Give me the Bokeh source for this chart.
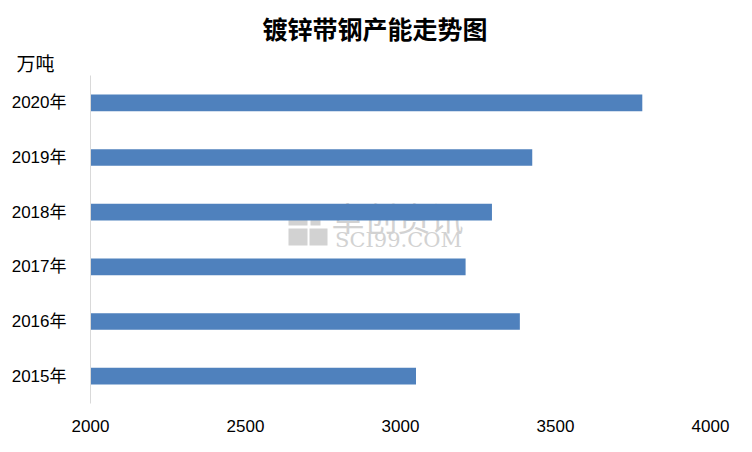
from bokeh.plotting import figure
from bokeh.models import FactorRange, Range1d, Label, FixedTicker, Title, BoxAnnotation
from bokeh.embed import file_html
from bokeh.resources import INLINE

# ---- data ----
years = ["2015年", "2016年", "2017年", "2018年", "2019年", "2020年"]
capacity = [3050, 3385, 3210, 3295, 3425, 3780]
x_ticks = [2000, 2500, 3000, 3500, 4000]
title_text = "镀锌带钢产能走势图"
unit_text = "万吨"

BAR = "#4F81BD"
FONT = "Liberation Sans, Noto Sans CJK SC"
WM = "#d2d2d2"

p = figure(width=736, height=436,
           y_range=FactorRange(factors=years),
           x_range=Range1d(2000, 4000),
           output_backend="svg", toolbar_location=None,
           min_border_left=90, min_border_right=26,
           min_border_top=75, min_border_bottom=33)
p.title.visible = False

# watermark (underlay, decorative)
for l, r, b, t in [(198, 217, 178, 187), (220, 230, 178, 187),
                   (198, 217, 158, 175), (219, 237, 158, 175)]:
    p.add_layout(BoxAnnotation(left=l, right=r, bottom=b, top=t,
                               left_units="screen", right_units="screen",
                               bottom_units="screen", top_units="screen",
                               fill_color=WM, fill_alpha=1, line_color=None,
                               level="underlay"))
p.add_layout(Label(x=307, y=187, x_units="screen", y_units="screen",
                   text="卓创资讯", text_align="center", text_baseline="middle",
                   text_font="Noto Sans CJK SC", text_font_size="33px",
                   text_color=WM, level="underlay"))
p.add_layout(Label(x=308, y=164, x_units="screen", y_units="screen",
                   text="SCI99.COM", text_align="center", text_baseline="middle",
                   text_font="DejaVu Serif", text_font_size="21px",
                   text_color=WM, level="underlay"))

p.hbar(y=years, right=capacity, left=2000, height=0.305,
       fill_color=BAR, line_color=None)

p.xgrid.visible = False
p.ygrid.visible = False
p.outline_line_color = None

p.xaxis.ticker = FixedTicker(ticks=x_ticks)
p.xaxis.axis_line_color = None
p.xaxis.major_tick_line_color = None
p.xaxis.minor_tick_line_color = None
p.xaxis.major_label_standoff = 10
p.xaxis.major_label_text_font = FONT
p.xaxis.major_label_text_font_size = "17px"
p.xaxis.major_label_text_color = "#000000"

p.yaxis.axis_line_color = "#d9d9d9"
p.yaxis.axis_line_width = 1
p.yaxis.major_tick_line_color = None
p.yaxis.minor_tick_line_color = None
p.yaxis.major_label_standoff = 18
p.yaxis.major_label_text_font = FONT
p.yaxis.major_label_text_font_size = "17px"
p.yaxis.major_label_text_color = "#000000"

p.add_layout(Title(text=unit_text, align="left", offset=-74, standoff=0,
                   text_font="Noto Sans CJK SC", text_font_style="normal",
                   text_font_size="19px", text_color="#000000"), "above")
p.add_layout(Title(text=title_text, align="left", offset=172, standoff=2,
                   text_font="Noto Sans CJK SC", text_font_style="bold",
                   text_font_size="25px", text_color="#000000"), "above")

open("out.html", "w").write(file_html(p, INLINE))
